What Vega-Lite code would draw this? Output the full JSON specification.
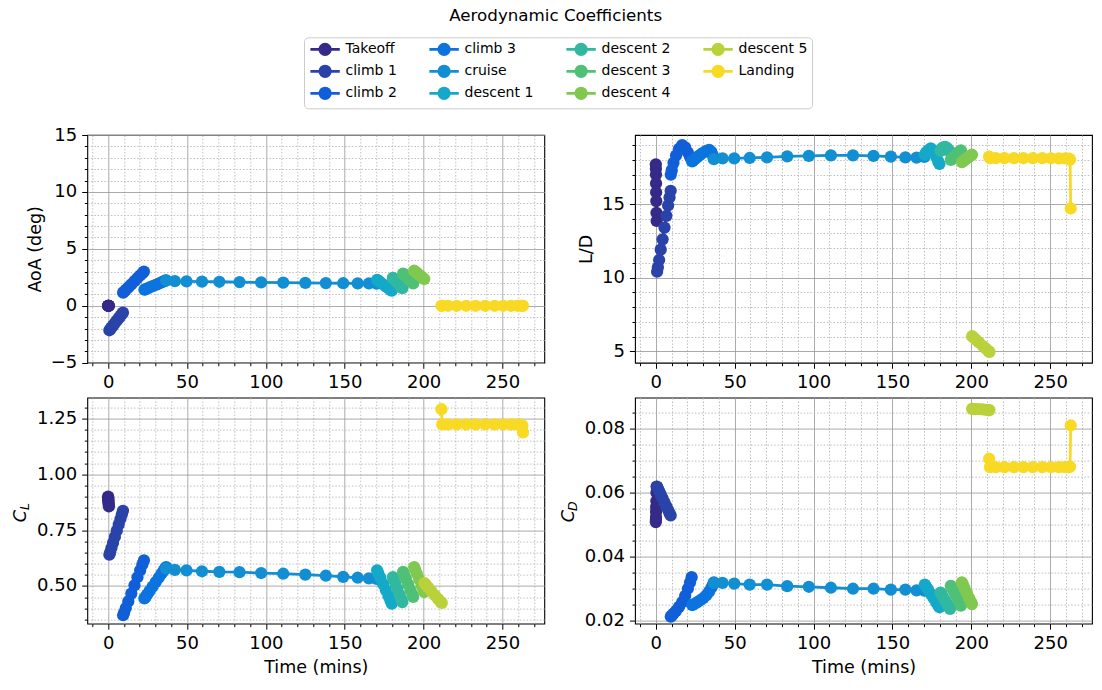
{
  "$schema": "https://vega.github.io/schema/vega-lite/v6.json",
  "autosize": {"type": "none"},
  "padding": {"left": 87.3, "top": 135, "right": 1014.7, "bottom": 555},
  "background": "white",
  "title": {"text": "Aerodynamic Coefficients", "anchor": "middle", "frame": "bounds", "font": "DejaVu Sans", "fontSize": 16.7, "fontWeight": "normal", "color": "black", "offset": 12, "dx": 4},
  "data": {"values": [
    {"s":"Takeoff","t":0,"a":0,"ld":17.7,"cl":0.9,"cd":0.0508},
    {"s":"Takeoff","t":0.05,"a":0,"ld":17.4,"cl":0.896,"cd":0.0515},
    {"s":"Takeoff","t":0.1,"a":0,"ld":17.0,"cl":0.891,"cd":0.0524},
    {"s":"Takeoff","t":0.15,"a":0,"ld":16.4,"cl":0.885,"cd":0.054},
    {"s":"Takeoff","t":0.2,"a":0,"ld":15.8,"cl":0.879,"cd":0.0556},
    {"s":"Takeoff","t":0.3,"a":0,"ld":15.2,"cl":0.872,"cd":0.0574},
    {"s":"Takeoff","t":0.4,"a":0,"ld":14.4,"cl":0.864,"cd":0.06},
    {"s":"Takeoff","t":0.5,"a":0,"ld":13.85,"cl":0.857,"cd":0.0619},
    {"s":"climb 1","t":0.8,"a":-2.15,"ld":10.4,"cl":0.64,"cd":0.0618},
    {"s":"climb 1","t":1.3,"a":-2.06,"ld":10.7,"cl":0.651,"cd":0.0613},
    {"s":"climb 1","t":2.1,"a":-1.92,"ld":11.2,"cl":0.67,"cd":0.0605},
    {"s":"climb 1","t":3.1,"a":-1.74,"ld":11.9,"cl":0.693,"cd":0.0594},
    {"s":"climb 1","t":4.3,"a":-1.52,"ld":12.6,"cl":0.72,"cd":0.0582},
    {"s":"climb 1","t":5.5,"a":-1.3,"ld":13.4,"cl":0.748,"cd":0.0569},
    {"s":"climb 1","t":6.7,"a":-1.09,"ld":14.2,"cl":0.775,"cd":0.0557},
    {"s":"climb 1","t":7.8,"a":-0.89,"ld":14.9,"cl":0.8,"cd":0.0546},
    {"s":"climb 1","t":8.7,"a":-0.73,"ld":15.45,"cl":0.821,"cd":0.0536},
    {"s":"climb 1","t":9.4,"a":-0.6,"ld":15.9,"cl":0.837,"cd":0.0529},
    {"s":"climb 2","t":9.5,"a":1.15,"ld":17.0,"cl":0.369,"cd":0.0213},
    {"s":"climb 2","t":10.1,"a":1.23,"ld":17.3,"cl":0.38,"cd":0.0216},
    {"s":"climb 2","t":11.2,"a":1.39,"ld":17.8,"cl":0.401,"cd":0.0222},
    {"s":"climb 2","t":12.8,"a":1.61,"ld":18.3,"cl":0.431,"cd":0.0231},
    {"s":"climb 2","t":14.7,"a":1.88,"ld":18.75,"cl":0.466,"cd":0.0243},
    {"s":"climb 2","t":16.7,"a":2.16,"ld":19.0,"cl":0.503,"cd":0.0258},
    {"s":"climb 2","t":18.6,"a":2.43,"ld":18.85,"cl":0.539,"cd":0.0278},
    {"s":"climb 2","t":20.3,"a":2.66,"ld":18.5,"cl":0.57,"cd":0.03},
    {"s":"climb 2","t":21.7,"a":2.86,"ld":18.2,"cl":0.596,"cd":0.032},
    {"s":"climb 2","t":22.7,"a":3.0,"ld":18.0,"cl":0.615,"cd":0.0336},
    {"s":"climb 3","t":23.0,"a":1.41,"ld":17.9,"cl":0.444,"cd":0.0249},
    {"s":"climb 3","t":23.6,"a":1.45,"ld":17.95,"cl":0.45,"cd":0.025},
    {"s":"climb 3","t":24.7,"a":1.51,"ld":18.05,"cl":0.461,"cd":0.0253},
    {"s":"climb 3","t":26.3,"a":1.61,"ld":18.2,"cl":0.478,"cd":0.0258},
    {"s":"climb 3","t":28.2,"a":1.72,"ld":18.35,"cl":0.497,"cd":0.0264},
    {"s":"climb 3","t":30.2,"a":1.84,"ld":18.5,"cl":0.518,"cd":0.0271},
    {"s":"climb 3","t":32.1,"a":1.95,"ld":18.62,"cl":0.537,"cd":0.028},
    {"s":"climb 3","t":33.8,"a":2.05,"ld":18.68,"cl":0.555,"cd":0.0291},
    {"s":"climb 3","t":35.2,"a":2.14,"ld":18.55,"cl":0.569,"cd":0.0303},
    {"s":"climb 3","t":36.2,"a":2.2,"ld":18.3,"cl":0.579,"cd":0.0313},
    {"s":"climb 3","t":36.8,"a":2.23,"ld":18.1,"cl":0.585,"cd":0.032},
    {"s":"cruise","t":36.8,"a":2.22,"ld":18.05,"cl":0.578,"cd":0.0318},
    {"s":"cruise","t":42.3,"a":2.16,"ld":18.1,"cl":0.572,"cd":0.0318},
    {"s":"cruise","t":49.7,"a":2.15,"ld":18.1,"cl":0.57,"cd":0.0316},
    {"s":"cruise","t":59.5,"a":2.12,"ld":18.13,"cl":0.566,"cd":0.0313},
    {"s":"cruise","t":70.5,"a":2.11,"ld":18.17,"cl":0.563,"cd":0.0313},
    {"s":"cruise","t":83.3,"a":2.08,"ld":18.24,"cl":0.562,"cd":0.0308},
    {"s":"cruise","t":97.0,"a":2.05,"ld":18.27,"cl":0.558,"cd":0.0306},
    {"s":"cruise","t":111.0,"a":2.04,"ld":18.31,"cl":0.555,"cd":0.0303},
    {"s":"cruise","t":125.0,"a":2.01,"ld":18.31,"cl":0.551,"cd":0.03},
    {"s":"cruise","t":138.0,"a":1.99,"ld":18.27,"cl":0.546,"cd":0.03},
    {"s":"cruise","t":149.0,"a":1.98,"ld":18.22,"cl":0.541,"cd":0.0297},
    {"s":"cruise","t":158.2,"a":1.97,"ld":18.17,"cl":0.537,"cd":0.0297},
    {"s":"cruise","t":165.3,"a":1.96,"ld":18.15,"cl":0.534,"cd":0.0295},
    {"s":"cruise","t":170.2,"a":1.95,"ld":18.2,"cl":0.532,"cd":0.0294},
    {"s":"descent 1","t":170.5,"a":2.28,"ld":18.35,"cl":0.57,"cd":0.0313},
    {"s":"descent 1","t":171.3,"a":2.2,"ld":18.5,"cl":0.557,"cd":0.0307},
    {"s":"descent 1","t":172.6,"a":2.06,"ld":18.65,"cl":0.536,"cd":0.0297},
    {"s":"descent 1","t":174.3,"a":1.89,"ld":18.78,"cl":0.509,"cd":0.0284},
    {"s":"descent 1","t":176.0,"a":1.71,"ld":18.6,"cl":0.482,"cd":0.0271},
    {"s":"descent 1","t":177.7,"a":1.54,"ld":18.2,"cl":0.455,"cd":0.0258},
    {"s":"descent 1","t":179.0,"a":1.4,"ld":17.9,"cl":0.434,"cd":0.0248},
    {"s":"descent 1","t":179.8,"a":1.32,"ld":17.72,"cl":0.421,"cd":0.0242},
    {"s":"descent 2","t":180.5,"a":2.45,"ld":18.6,"cl":0.54,"cd":0.0288},
    {"s":"descent 2","t":181.1,"a":2.36,"ld":18.75,"cl":0.529,"cd":0.0283},
    {"s":"descent 2","t":182.1,"a":2.21,"ld":18.85,"cl":0.51,"cd":0.0274},
    {"s":"descent 2","t":183.4,"a":2.02,"ld":18.88,"cl":0.486,"cd":0.0263},
    {"s":"descent 2","t":184.7,"a":1.82,"ld":18.8,"cl":0.462,"cd":0.0252},
    {"s":"descent 2","t":185.8,"a":1.66,"ld":18.65,"cl":0.441,"cd":0.0243},
    {"s":"descent 2","t":186.5,"a":1.55,"ld":18.55,"cl":0.428,"cd":0.0237},
    {"s":"descent 3","t":187.0,"a":2.82,"ld":18.0,"cl":0.563,"cd":0.0309},
    {"s":"descent 3","t":187.6,"a":2.74,"ld":18.06,"cl":0.552,"cd":0.0303},
    {"s":"descent 3","t":188.7,"a":2.59,"ld":18.17,"cl":0.533,"cd":0.0293},
    {"s":"descent 3","t":190.2,"a":2.39,"ld":18.32,"cl":0.507,"cd":0.0278},
    {"s":"descent 3","t":191.7,"a":2.19,"ld":18.47,"cl":0.481,"cd":0.0264},
    {"s":"descent 3","t":192.8,"a":2.05,"ld":18.58,"cl":0.462,"cd":0.0253},
    {"s":"descent 3","t":193.4,"a":1.97,"ld":18.65,"cl":0.451,"cd":0.0247},
    {"s":"descent 4","t":194.0,"a":3.08,"ld":17.85,"cl":0.585,"cd":0.032},
    {"s":"descent 4","t":194.6,"a":3.01,"ld":17.9,"cl":0.574,"cd":0.0314},
    {"s":"descent 4","t":195.7,"a":2.89,"ld":17.98,"cl":0.555,"cd":0.0302},
    {"s":"descent 4","t":197.2,"a":2.72,"ld":18.1,"cl":0.529,"cd":0.0286},
    {"s":"descent 4","t":198.7,"a":2.55,"ld":18.22,"cl":0.503,"cd":0.027},
    {"s":"descent 4","t":199.8,"a":2.42,"ld":18.3,"cl":0.484,"cd":0.0258},
    {"s":"descent 4","t":200.4,"a":2.35,"ld":18.35,"cl":0.473,"cd":0.0252},
    {"s":"descent 5","t":200.5,"a":null,"ld":6.02,"cl":0.513,"cd":0.0862},
    {"s":"descent 5","t":201.2,"a":null,"ld":5.95,"cl":0.507,"cd":0.0862},
    {"s":"descent 5","t":202.7,"a":null,"ld":5.81,"cl":0.495,"cd":0.0861},
    {"s":"descent 5","t":204.8,"a":null,"ld":5.6,"cl":0.478,"cd":0.0861},
    {"s":"descent 5","t":207.2,"a":null,"ld":5.37,"cl":0.458,"cd":0.086},
    {"s":"descent 5","t":209.3,"a":null,"ld":5.17,"cl":0.441,"cd":0.0859},
    {"s":"descent 5","t":210.8,"a":null,"ld":5.02,"cl":0.429,"cd":0.0858},
    {"s":"descent 5","t":211.5,"a":null,"ld":4.95,"cl":0.424,"cd":0.0858},
    {"s":"Landing","t":211.3,"a":0,"ld":18.22,"cl":1.292,"cd":0.0706},
    {"s":"Landing","t":211.8,"a":0,"ld":18.12,"cl":1.224,"cd":0.068},
    {"s":"Landing","t":215.5,"a":0,"ld":18.12,"cl":1.224,"cd":0.068},
    {"s":"Landing","t":221.0,"a":0,"ld":18.12,"cl":1.224,"cd":0.068},
    {"s":"Landing","t":227.0,"a":0,"ld":18.12,"cl":1.224,"cd":0.068},
    {"s":"Landing","t":233.0,"a":0,"ld":18.12,"cl":1.224,"cd":0.068},
    {"s":"Landing","t":239.0,"a":0,"ld":18.12,"cl":1.224,"cd":0.068},
    {"s":"Landing","t":245.0,"a":0,"ld":18.12,"cl":1.224,"cd":0.068},
    {"s":"Landing","t":250.5,"a":0,"ld":18.11,"cl":1.224,"cd":0.068},
    {"s":"Landing","t":255.5,"a":0,"ld":18.1,"cl":1.224,"cd":0.068},
    {"s":"Landing","t":259.5,"a":0,"ld":18.1,"cl":1.223,"cd":0.068},
    {"s":"Landing","t":261.8,"a":0,"ld":18.08,"cl":1.222,"cd":0.068},
    {"s":"Landing","t":262.6,"a":0,"ld":18.02,"cl":1.219,"cd":0.0681},
    {"s":"Landing","t":263.0,"a":0,"ld":14.7,"cl":1.188,"cd":0.081}
  ]},
  "columns": 2,
  "spacing": {"row": 34.6, "column": 90.7},
  "bounds": "flush",
  "concat": [
    {
      "width": 457, "height": 227.7,
      "transform": [{"filter": "datum.a != null"}],
      "encoding": {
        "x": {"field": "t", "type": "quantitative", "scale": {"domain": [-13.2, 276.5], "nice": false, "zero": false},
          "axis": {"title": null, "format": "d", "values": [-10,0,10,20,30,40,50,60,70,80,90,100,110,120,130,140,150,160,170,180,190,200,210,220,230,240,250,260,270],
            "labelExpr": "datum.value % 50 === 0 ? datum.label : ''",
            "tickSize": {"condition": {"test": "datum.value % 50 === 0", "value": 5.6}, "value": 3},
            "gridDash": {"condition": {"test": "datum.value % 50 === 0", "value": []}, "value": [1.5, 1.8]},
            "gridColor": {"condition": {"test": "datum.value % 50 === 0", "value": "#9c9c9c"}, "value": "#b3b3b3"}}},
        "y": {"field": "a", "type": "quantitative", "scale": {"domain": [-5, 15], "nice": false, "zero": false},
          "axis": {"title": "AoA (deg)", "format": "d", "values": [-5,-4,-3,-2,-1,0,1,2,3,4,5,6,7,8,9,10,11,12,13,14,15],
            "labelExpr": "datum.value % 5 === 0 ? datum.label : ''",
            "tickSize": {"condition": {"test": "datum.value % 5 === 0", "value": 5.6}, "value": 3},
            "gridDash": {"condition": {"test": "datum.value % 5 === 0", "value": []}, "value": [1.5, 1.8]},
            "gridColor": {"condition": {"test": "datum.value % 5 === 0", "value": "#9c9c9c"}, "value": "#b3b3b3"}}},
        "color": {"field": "s", "type": "nominal",
          "scale": {"domain": ["Takeoff","climb 1","climb 2","climb 3","cruise","descent 1","descent 2","descent 3","descent 4","descent 5","Landing"],
                    "range": ["#352a87","#2a43a9","#105fd8","#0b74de","#128fd3","#14a9c9","#31b8a0","#4fc177","#80c951","#bbd13b","#f8d924"]},
          "legend": {"title": null, "orient": "none", "legendX": 216.7, "legendY": -97.7, "columns": 4, "columnPadding": 26, "rowPadding": 0, "padding": 4,
            "symbolType": "M-2.26,0L2.26,0M0.8,0L0.739,0.306L0.566,0.566L0.306,0.739L0,0.8L-0.306,0.739L-0.566,0.566L-0.739,0.306L-0.8,0L-0.739,-0.306L-0.566,-0.566L-0.306,-0.739L0,-0.8L0.306,-0.739L0.566,-0.566L0.739,-0.306Z",
            "symbolSize": 169, "symbolStrokeWidth": 2.8, "symbolOffset": 9.1, "labelOffset": 12.4,
            "labelFont": "DejaVu Sans", "labelFontSize": 14, "labelColor": "black", "strokeColor": "#cccccc", "fillColor": "white", "cornerRadius": 4, "labelLimit": 200,
            "encode": {"symbols": {"update": {"fill": {"scale": "color", "field": "value"}, "stroke": {"scale": "color", "field": "value"}, "fillOpacity": {"value": 1}, "strokeOpacity": {"value": 1}, "opacity": {"value": 1}}}}}}
      },
      "layer": [
        {"mark": {"type": "line", "strokeWidth": 2.8}},
        {"mark": {"type": "point", "filled": true, "size": 150, "opacity": 1}}
      ]
    },
    {
      "width": 457, "height": 227.7,
      "encoding": {
        "x": {"field": "t", "type": "quantitative", "scale": {"domain": [-13.2, 276.5], "nice": false, "zero": false},
          "axis": {"title": null, "format": "d", "values": [-10,0,10,20,30,40,50,60,70,80,90,100,110,120,130,140,150,160,170,180,190,200,210,220,230,240,250,260,270],
            "labelExpr": "datum.value % 50 === 0 ? datum.label : ''",
            "tickSize": {"condition": {"test": "datum.value % 50 === 0", "value": 5.6}, "value": 3},
            "gridDash": {"condition": {"test": "datum.value % 50 === 0", "value": []}, "value": [1.5, 1.8]},
            "gridColor": {"condition": {"test": "datum.value % 50 === 0", "value": "#9c9c9c"}, "value": "#b3b3b3"}}},
        "y": {"field": "ld", "type": "quantitative", "scale": {"domain": [4.22, 19.69], "nice": false, "zero": false},
          "axis": {"title": "L/D", "format": "d", "values": [5,6,7,8,9,10,11,12,13,14,15,16,17,18,19],
            "labelExpr": "datum.value % 5 === 0 ? datum.label : ''",
            "tickSize": {"condition": {"test": "datum.value % 5 === 0", "value": 5.6}, "value": 3},
            "gridDash": {"condition": {"test": "datum.value % 5 === 0", "value": []}, "value": [1.5, 1.8]},
            "gridColor": {"condition": {"test": "datum.value % 5 === 0", "value": "#9c9c9c"}, "value": "#b3b3b3"}}},
        "color": {"field": "s", "type": "nominal",
          "scale": {"domain": ["Takeoff","climb 1","climb 2","climb 3","cruise","descent 1","descent 2","descent 3","descent 4","descent 5","Landing"],
                    "range": ["#352a87","#2a43a9","#105fd8","#0b74de","#128fd3","#14a9c9","#31b8a0","#4fc177","#80c951","#bbd13b","#f8d924"]},
          "legend": {"title": null, "orient": "none", "legendX": 216.7, "legendY": -97.7, "columns": 4, "columnPadding": 26, "rowPadding": 0, "padding": 4,
            "symbolType": "M-2.26,0L2.26,0M0.8,0L0.739,0.306L0.566,0.566L0.306,0.739L0,0.8L-0.306,0.739L-0.566,0.566L-0.739,0.306L-0.8,0L-0.739,-0.306L-0.566,-0.566L-0.306,-0.739L0,-0.8L0.306,-0.739L0.566,-0.566L0.739,-0.306Z",
            "symbolSize": 169, "symbolStrokeWidth": 2.8, "symbolOffset": 9.1, "labelOffset": 12.4,
            "labelFont": "DejaVu Sans", "labelFontSize": 14, "labelColor": "black", "strokeColor": "#cccccc", "fillColor": "white", "cornerRadius": 4, "labelLimit": 200,
            "encode": {"symbols": {"update": {"fill": {"scale": "color", "field": "value"}, "stroke": {"scale": "color", "field": "value"}, "fillOpacity": {"value": 1}, "strokeOpacity": {"value": 1}, "opacity": {"value": 1}}}}}}
      },
      "layer": [
        {"mark": {"type": "line", "strokeWidth": 2.8}},
        {"mark": {"type": "point", "filled": true, "size": 150, "opacity": 1}}
      ]
    },
    {
      "width": 457, "height": 226,
      "encoding": {
        "x": {"field": "t", "type": "quantitative", "scale": {"domain": [-13.2, 276.5], "nice": false, "zero": false},
          "axis": {"title": "Time (mins)", "format": "d", "values": [-10,0,10,20,30,40,50,60,70,80,90,100,110,120,130,140,150,160,170,180,190,200,210,220,230,240,250,260,270],
            "labelExpr": "datum.value % 50 === 0 ? datum.label : ''",
            "tickSize": {"condition": {"test": "datum.value % 50 === 0", "value": 5.6}, "value": 3},
            "gridDash": {"condition": {"test": "datum.value % 50 === 0", "value": []}, "value": [1.5, 1.8]},
            "gridColor": {"condition": {"test": "datum.value % 50 === 0", "value": "#9c9c9c"}, "value": "#b3b3b3"}}},
        "color": {"field": "s", "type": "nominal",
          "scale": {"domain": ["Takeoff","climb 1","climb 2","climb 3","cruise","descent 1","descent 2","descent 3","descent 4","descent 5","Landing"],
                    "range": ["#352a87","#2a43a9","#105fd8","#0b74de","#128fd3","#14a9c9","#31b8a0","#4fc177","#80c951","#bbd13b","#f8d924"]},
          "legend": {"title": null, "orient": "none", "legendX": 216.7, "legendY": -97.7, "columns": 4, "columnPadding": 26, "rowPadding": 0, "padding": 4,
            "symbolType": "M-2.26,0L2.26,0M0.8,0L0.739,0.306L0.566,0.566L0.306,0.739L0,0.8L-0.306,0.739L-0.566,0.566L-0.739,0.306L-0.8,0L-0.739,-0.306L-0.566,-0.566L-0.306,-0.739L0,-0.8L0.306,-0.739L0.566,-0.566L0.739,-0.306Z",
            "symbolSize": 169, "symbolStrokeWidth": 2.8, "symbolOffset": 9.1, "labelOffset": 12.4,
            "labelFont": "DejaVu Sans", "labelFontSize": 14, "labelColor": "black", "strokeColor": "#cccccc", "fillColor": "white", "cornerRadius": 4, "labelLimit": 200,
            "encode": {"symbols": {"update": {"fill": {"scale": "color", "field": "value"}, "stroke": {"scale": "color", "field": "value"}, "fillOpacity": {"value": 1}, "strokeOpacity": {"value": 1}, "opacity": {"value": 1}}}}}}
      },
      "layer": [
        {"mark": {"type": "line", "strokeWidth": 2.8},
         "encoding": {"y": {"field": "cl", "type": "quantitative", "scale": {"domain": [0.3315, 1.344], "nice": false, "zero": false},
          "axis": {"title": "C", "titleFontStyle": "italic", "titleX": -62, "titleY": 118, "titleAngle": 270, "titleAlign": "center", "titleBaseline": "alphabetic",
            "format": ".2f", "values": [0.35,0.4,0.45,0.5,0.55,0.6,0.65,0.7,0.75,0.8,0.85,0.9,0.95,1,1.05,1.1,1.15,1.2,1.25,1.3],
            "labelExpr": "abs(datum.value * 4 - round(datum.value * 4)) < 1e-6 ? datum.label : ''",
            "tickSize": {"condition": {"test": "abs(datum.value * 4 - round(datum.value * 4)) < 1e-6", "value": 5.6}, "value": 3},
            "gridDash": {"condition": {"test": "abs(datum.value * 4 - round(datum.value * 4)) < 1e-6", "value": []}, "value": [1.5, 1.8]},
            "gridColor": {"condition": {"test": "abs(datum.value * 4 - round(datum.value * 4)) < 1e-6", "value": "#9c9c9c"}, "value": "#b3b3b3"}}}}},
        {"mark": {"type": "point", "filled": true, "size": 150, "opacity": 1},
         "encoding": {"y": {"field": "cl", "type": "quantitative",
          "axis": {"orient": "left", "title": "L", "titleFontStyle": "italic", "titleFontSize": 12.5, "titleX": -58.5, "titleY": 108.5, "titleAngle": 270, "titleAlign": "center", "titleBaseline": "alphabetic",
            "labels": false, "ticks": false, "grid": false, "domain": false}}}}
      ],
      "resolve": {"axis": {"y": "independent"}}
    },
    {
      "width": 457, "height": 226,
      "encoding": {
        "x": {"field": "t", "type": "quantitative", "scale": {"domain": [-13.2, 276.5], "nice": false, "zero": false},
          "axis": {"title": "Time (mins)", "format": "d", "values": [-10,0,10,20,30,40,50,60,70,80,90,100,110,120,130,140,150,160,170,180,190,200,210,220,230,240,250,260,270],
            "labelExpr": "datum.value % 50 === 0 ? datum.label : ''",
            "tickSize": {"condition": {"test": "datum.value % 50 === 0", "value": 5.6}, "value": 3},
            "gridDash": {"condition": {"test": "datum.value % 50 === 0", "value": []}, "value": [1.5, 1.8]},
            "gridColor": {"condition": {"test": "datum.value % 50 === 0", "value": "#9c9c9c"}, "value": "#b3b3b3"}}},
        "color": {"field": "s", "type": "nominal",
          "scale": {"domain": ["Takeoff","climb 1","climb 2","climb 3","cruise","descent 1","descent 2","descent 3","descent 4","descent 5","Landing"],
                    "range": ["#352a87","#2a43a9","#105fd8","#0b74de","#128fd3","#14a9c9","#31b8a0","#4fc177","#80c951","#bbd13b","#f8d924"]},
          "legend": {"title": null, "orient": "none", "legendX": 216.7, "legendY": -97.7, "columns": 4, "columnPadding": 26, "rowPadding": 0, "padding": 4,
            "symbolType": "M-2.26,0L2.26,0M0.8,0L0.739,0.306L0.566,0.566L0.306,0.739L0,0.8L-0.306,0.739L-0.566,0.566L-0.739,0.306L-0.8,0L-0.739,-0.306L-0.566,-0.566L-0.306,-0.739L0,-0.8L0.306,-0.739L0.566,-0.566L0.739,-0.306Z",
            "symbolSize": 169, "symbolStrokeWidth": 2.8, "symbolOffset": 9.1, "labelOffset": 12.4,
            "labelFont": "DejaVu Sans", "labelFontSize": 14, "labelColor": "black", "strokeColor": "#cccccc", "fillColor": "white", "cornerRadius": 4, "labelLimit": 200,
            "encode": {"symbols": {"update": {"fill": {"scale": "color", "field": "value"}, "stroke": {"scale": "color", "field": "value"}, "fillOpacity": {"value": 1}, "strokeOpacity": {"value": 1}, "opacity": {"value": 1}}}}}}
      },
      "layer": [
        {"mark": {"type": "line", "strokeWidth": 2.8},
         "encoding": {"y": {"field": "cd", "type": "quantitative", "scale": {"domain": [0.0191, 0.0897], "nice": false, "zero": false},
          "axis": {"title": "C", "titleFontStyle": "italic", "titleX": -62, "titleY": 118, "titleAngle": 270, "titleAlign": "center", "titleBaseline": "alphabetic",
            "format": ".2f", "values": [0.02,0.025,0.03,0.035,0.04,0.045,0.05,0.055,0.06,0.065,0.07,0.075,0.08,0.085],
            "labelExpr": "abs(datum.value * 50 - round(datum.value * 50)) < 1e-6 ? datum.label : ''",
            "tickSize": {"condition": {"test": "abs(datum.value * 50 - round(datum.value * 50)) < 1e-6", "value": 5.6}, "value": 3},
            "gridDash": {"condition": {"test": "abs(datum.value * 50 - round(datum.value * 50)) < 1e-6", "value": []}, "value": [1.5, 1.8]},
            "gridColor": {"condition": {"test": "abs(datum.value * 50 - round(datum.value * 50)) < 1e-6", "value": "#9c9c9c"}, "value": "#b3b3b3"}}}}},
        {"mark": {"type": "point", "filled": true, "size": 150, "opacity": 1},
         "encoding": {"y": {"field": "cd", "type": "quantitative",
          "axis": {"orient": "left", "title": "D", "titleFontStyle": "italic", "titleFontSize": 12.5, "titleX": -58.5, "titleY": 108, "titleAngle": 270, "titleAlign": "center", "titleBaseline": "alphabetic",
            "labels": false, "ticks": false, "grid": false, "domain": false}}}}
      ],
      "resolve": {"axis": {"y": "independent"}}
    }
  ],
  "config": {
    "font": "DejaVu Sans",
    "view": {"stroke": "black", "strokeWidth": 1.1},
    "axis": {"domain": false, "labelFont": "DejaVu Sans", "labelFontSize": 18, "labelColor": "black", "tickColor": "black", "tickWidth": 1,
      "titleFont": "DejaVu Sans", "titleFontSize": 17.5, "titleFontWeight": "normal", "titleColor": "black", "gridWidth": 0.85,
      "labelPadding": 5, "titlePadding": 6, "labelOverlap": false, "labelBound": false, "labelFlush": false}
  }
}
